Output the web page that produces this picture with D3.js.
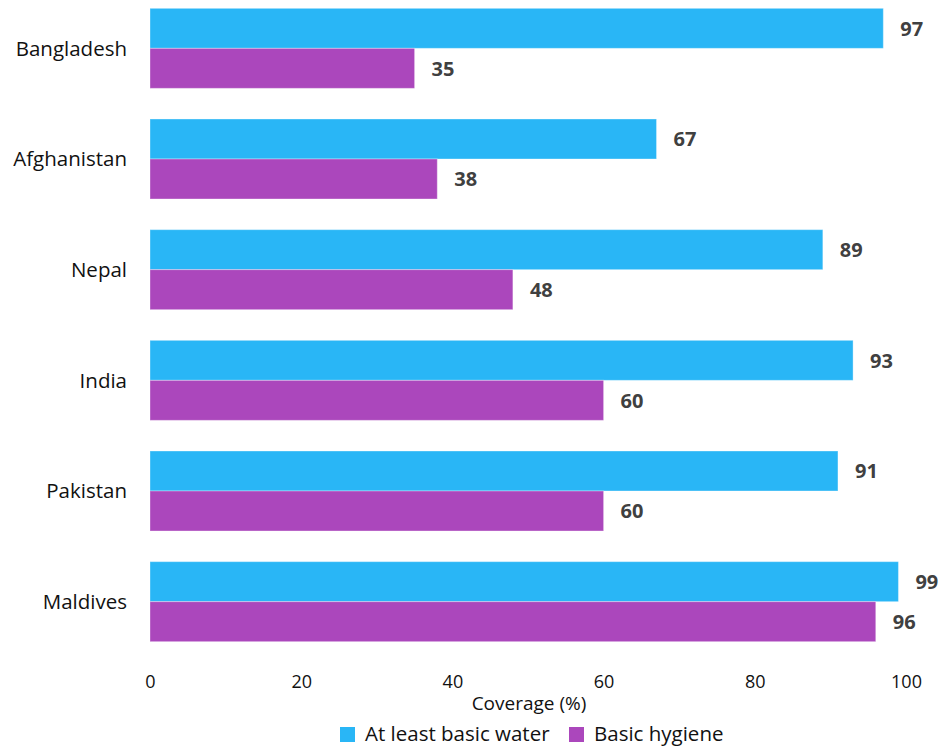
<!DOCTYPE html>
<html>
<head>
<meta charset="utf-8">
<script src="https://cdn.jsdelivr.net/npm/d3@7"></script>
<style>
  html, body { margin: 0; padding: 0; background: #fff; }
  svg { display: block; }
</style>
</head>
<body>
<svg id="chart" width="951" height="747"></svg>
<script>
// Drinking water and hygiene coverage, South Asia
const countries = ["Bangladesh", "Afghanistan", "Nepal", "India", "Pakistan", "Maldives"];
const water = [97, 67, 89, 93, 91, 99];
const hygiene = [35, 38, 48, 60, 60, 96];
const seriesNames = ["At least basic water", "Basic hygiene"];
const seriesColors = ["#29B6F6", "#AB47BC"];
const xTicks = [0, 20, 40, 60, 80, 100];

const svg = d3.select("#chart");
const font = "'Open Sans', Lato, sans-serif";

const x = d3.scaleLinear().domain([0, 100]).range([150, 906]);
const y = d3.scaleBand().domain(countries).range([-7, 657])
  .paddingInner(0.277).paddingOuter(0.1385);
const sub = d3.scaleBand().domain([0, 1]).range([0, y.bandwidth()]);

const rows = countries.map((c, i) => ({ c, vals: [water[i], hygiene[i]] }));

const g = svg.append("g");
const grp = g.selectAll("g.row").data(rows).join("g")
  .attr("class", "row")
  .attr("transform", d => `translate(0,${y(d.c)})`);

grp.selectAll("rect").data(d => d.vals.map((v, k) => ({ v, k }))).join("rect")
  .attr("x", x(0))
  .attr("y", d => sub(d.k))
  .attr("width", d => x(d.v) - x(0))
  .attr("height", sub.bandwidth())
  .attr("fill", d => seriesColors[d.k])
  .attr("stroke", "rgba(255,255,255,0.35)")
  .attr("stroke-width", 1);

grp.selectAll("text.val").data(d => d.vals.map((v, k) => ({ v, k }))).join("text")
  .attr("class", "val")
  .attr("x", d => x(d.v) + 17)
  .attr("y", d => sub(d.k) + sub.bandwidth() / 2)
  .attr("dy", "0.36em")
  .attr("font-family", font)
  .attr("font-weight", "bold")
  .attr("font-size", 20)
  .attr("fill", "#404040")
  .text(d => d.v);

// Category labels
g.selectAll("text.cat").data(countries).join("text")
  .attr("class", "cat")
  .attr("x", 127)
  .attr("y", d => y(d) + y.bandwidth() / 2)
  .attr("dy", "0.35em")
  .attr("text-anchor", "end")
  .attr("font-family", font)
  .attr("font-size", 20.5)
  .attr("fill", "#111")
  .text(d => d);

// X axis tick labels (no axis line)
const xAxis = d3.axisBottom(x).tickValues(xTicks).tickSize(0).tickPadding(0);
const ax = svg.append("g").attr("transform", "translate(0,675)").call(xAxis);
ax.select(".domain").remove();
ax.selectAll("text")
  .attr("font-family", font)
  .attr("font-size", 18)
  .attr("fill", "#111");

svg.append("text")
  .attr("x", 529).attr("y", 710)
  .attr("text-anchor", "middle")
  .attr("font-family", font)
  .attr("font-size", 19)
  .attr("fill", "#111")
  .text("Coverage (%)");

// Legend
const legendX = [340, 569];
const lg = svg.selectAll("g.leg").data(seriesNames).join("g")
  .attr("class", "leg")
  .attr("transform", (d, i) => `translate(${legendX[i]},727)`);
lg.append("rect").attr("width", 15).attr("height", 15)
  .attr("fill", (d, i) => seriesColors[i]);
lg.append("text")
  .attr("x", 25).attr("y", 7).attr("dy", "0.36em")
  .attr("font-family", font)
  .attr("font-size", 20.5)
  .attr("fill", "#111")
  .text(d => d);
</script>
</body>
</html>
